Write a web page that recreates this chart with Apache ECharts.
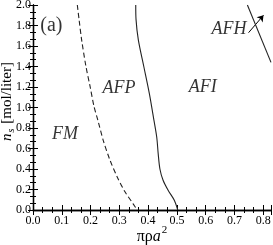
<!DOCTYPE html>
<html><head><meta charset="utf-8">
<script src="https://cdn.jsdelivr.net/npm/echarts@6/dist/echarts.min.js"></script>
<style>html,body{margin:0;padding:0;background:#fff}#c{width:273px;height:245px}</style>
</head><body><div id="c"></div>
<script>
// dashed boundary FM / AFP
const dashX = [0.154,0.160,0.169,0.184,0.198,0.212,0.225,0.244,0.267,0.293,0.319,0.348,0.362];
const dashY = [2.0,1.86,1.66,1.40,1.21,1.01,0.88,0.68,0.49,0.32,0.18,0.06,0.0];
// solid boundary AFP / AFI
const solidX = [0.357,0.358,0.366,0.385,0.404,0.420,0.430,0.435,0.441,0.452,0.470,0.491,0.503];
const solidY = [2.0,1.86,1.66,1.40,1.14,0.88,0.71,0.55,0.40,0.29,0.19,0.095,0.0];
// AFI / AFH boundary
const afhX = [0.745,0.827];
const afhY = [2.0,1.44];
// arrow from AFH label
const arrowX = [0.749,0.801];
const arrowY = [1.73,1.90];
// region labels
const labelText = ['(a)','AFP','AFI','AFH','FM'];
const labelX = [0.064,0.299,0.590,0.681,0.111];
const labelY = [1.80,1.19,1.20,1.763,0.741];

const xMin = 0, xMax = 0.827, xInt = 0.1;
const yMin = 0, yMax = 2.0, yInt = 0.2;

const zip = (a,b)=>a.map((v,i)=>[v,b[i]]);
const F = 'Liberation Serif';
const axisCommon = {
  axisLine:{show:true,lineStyle:{color:'#000',width:1.3}},
  axisTick:{show:true,inside:true,length:5,lineStyle:{color:'#000',width:1}},
  minorTick:{show:true,splitNumber:3,length:3,lineStyle:{color:'#000',width:1}},
  splitLine:{show:false}
};
const chart = echarts.init(document.getElementById('c'));
chart.setOption({
  animation:false,
  grid:{left:33,right:2,top:5,bottom:35,containLabel:false,outerBoundsMode:'none'},
  xAxis:[
    Object.assign({type:'value',min:xMin,max:xMax,interval:xInt,position:'bottom',
      axisLabel:{fontFamily:F,fontSize:12,color:'#000',margin:5,showMaxLabel:false,formatter:v=>v.toFixed(1)},
      name:'{g|πρ}{a|a}{s|2}',nameLocation:'middle',nameGap:15,nameMoveOverlap:false,
      nameTextStyle:{rich:{g:{fontFamily:F,fontSize:16,color:'#000'},a:{fontFamily:F,fontSize:16,fontStyle:'italic',color:'#000'},s:{fontFamily:F,fontSize:11,color:'#000',padding:[0,0,12,1]}}}
    },axisCommon),
    Object.assign({type:'value',min:xMin,max:xMax,interval:xInt,position:'top',axisLabel:{show:false}},axisCommon)
  ],
  yAxis:[
    Object.assign({type:'value',min:yMin,max:yMax,interval:yInt,position:'left',
      axisLabel:{fontFamily:F,fontSize:12,color:'#000',margin:2,formatter:v=>v.toFixed(1)},
      name:'{n|n}{s|s}{t| [mol/liter]}',nameLocation:'middle',nameGap:17,nameRotate:90,nameMoveOverlap:false,
      nameTextStyle:{padding:[0,0,0,12],rich:{n:{fontFamily:F,fontSize:15,fontStyle:'italic',color:'#000'},s:{fontFamily:F,fontSize:10,fontStyle:'italic',color:'#000',padding:[8,1,0,1]},t:{fontFamily:F,fontSize:15,color:'#000'}}}
    },axisCommon),
    Object.assign({type:'value',min:yMin,max:yMax,interval:yInt,position:'right',axisLabel:{show:false}},axisCommon)
  ],
  series:[
    {type:'line',data:zip(dashX,dashY),smooth:0.3,symbol:'none',lineStyle:{color:'#222',width:1.1,type:[5,3]}},
    {type:'line',data:zip(solidX,solidY),smooth:0.3,symbol:'none',lineStyle:{color:'#222',width:1.1}},
    {type:'line',data:zip(afhX,afhY),symbol:'none',lineStyle:{color:'#222',width:1.1}},
    {type:'lines',coordinateSystem:'cartesian2d',symbol:['none','arrow'],symbolSize:6,
      lineStyle:{color:'#000',width:1,opacity:1},
      data:[{coords:zip(arrowX,arrowY)}]},
    {type:'scatter',symbolSize:0,silent:true,
      data:labelText.map((t,i)=>({value:[labelX[i],labelY[i]],name:t,
        label: i===0?{fontStyle:'normal',fontSize:20}:{}})),
      label:{show:true,position:'inside',formatter:p=>p.name,color:'#000',fontFamily:F,
        fontSize:18,fontStyle:'italic'}}
  ]
});
</script></body></html>
